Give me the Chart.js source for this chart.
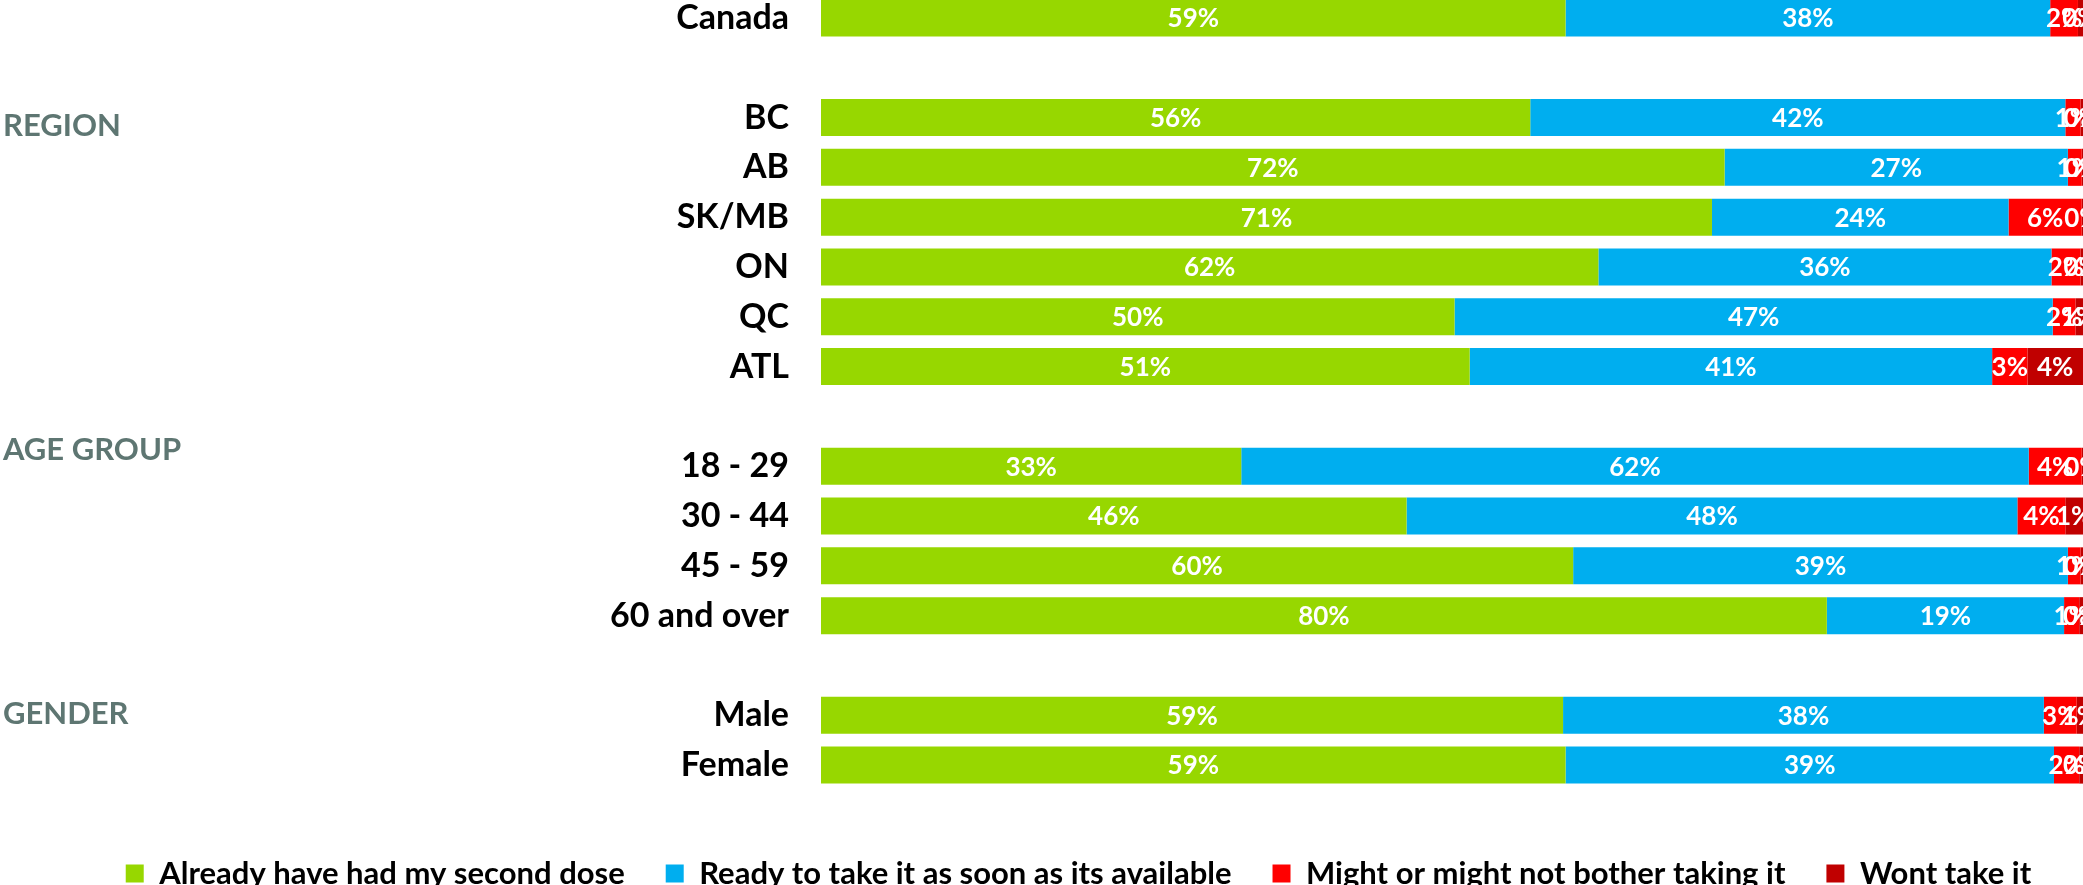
<!DOCTYPE html>
<html>
<head>
<meta charset="utf-8">
<script src="https://cdn.jsdelivr.net/npm/chart.js@4.4.0/dist/chart.umd.min.js"></script>
<style>
  html, body { margin: 0; padding: 0; background: #fff; overflow: hidden; }
  .chart-wrapper { position: absolute; left: 0; top: -7px; width: 2083px; height: 906px; }
</style>
</head>
<body>
<div class="chart-wrapper"><canvas id="vaccineChart"></canvas></div>
<script>
  // rows, blank strings are the gaps between the groups
  let rowLabels = ["Canada", "", "BC", "AB", "SK/MB", "ON", "QC", "ATL", "",
    "18 - 29", "30 - 44", "45 - 59", "60 and over", "", "Male", "Female"];

  let seriesNames = [
    "Already have had my second dose",
    "Ready to take it as soon as its available",
    "Might or might not bother taking it",
    "Wont take it",
  ];

  // shares in %
  let alreadyDosed = [59.0, null, 56.2, 71.6, 70.6, 61.6, 50.2, 51.4, null, 33.3, 46.4, 59.6, 79.7, null, 58.8, 59.0];
  let readyToTake  = [38.4, null, 42.4, 27.2, 23.5, 35.9, 47.4, 41.4, null, 62.4, 48.4, 39.2, 18.8, null, 38.1, 38.7];
  let mightNot     = [2.2, null, 1.2, 1.1, 5.8, 2.3, 1.8, 2.8, null, 4.2, 3.8, 1.0, 1.2, null, 2.6, 2.0];
  let wontTake     = [0.4, null, 0.2, 0.1, 0.1, 0.2, 0.6, 4.4, null, 0.1, 1.4, 0.2, 0.3, null, 0.5, 0.3];

  let groupHeadings = ["REGION", "AGE GROUP", "GENDER"];
  let headingRows = [2, 9, 14];

  // colors + fonts
  let seriesColors = ["#97D700", "#00AEEF", "#FF0000", "#C00000"];
  let headingColor = "#5E7672";
  let chartFont = "Lato";

  // baseline offsets of the group headings from their row centre
  let headingOffsets = [18.5, -6.5, 8.5];

  const barLabels = {
    id: "barLabels",
    afterDatasetsDraw(chart) {
      const ctx = chart.ctx;
      ctx.save();
      ctx.font = "bold 26px " + chartFont;
      ctx.fillStyle = "#fff";
      ctx.textAlign = "center";
      ctx.textBaseline = "middle";
      chart.data.datasets.forEach((ds, i) => {
        chart.getDatasetMeta(i).data.forEach((bar, j) => {
          const v = ds.data[j];
          if (v == null) return;
          ctx.fillText(Math.round(v) + "%", (bar.x + bar.base) / 2, bar.y + 1);
        });
      });
      ctx.restore();
    }
  };

  const groupTitles = {
    id: "groupTitles",
    afterDraw(chart) {
      const ctx = chart.ctx;
      const yScale = chart.scales.y;
      ctx.save();
      ctx.font = "bold 31px " + chartFont;
      ctx.fillStyle = headingColor;
      ctx.textAlign = "left";
      ctx.textBaseline = "alphabetic";
      groupHeadings.forEach((text, i) => {
        const y = yScale.getPixelForValue(headingRows[i]) + headingOffsets[i];
        ctx.fillText(text, 3, y);
      });
      ctx.restore();
    }
  };

  let seriesData = [alreadyDosed, readyToTake, mightNot, wontTake];

  let ctx = document.getElementById("vaccineChart").getContext("2d");
  new Chart(ctx, {
    type: "bar",
    data: {
      labels: rowLabels,
      datasets: seriesNames.map((name, i) => ({
        label: name,
        data: seriesData[i],
        backgroundColor: seriesColors[i],
        borderWidth: 0,
        categoryPercentage: 1,
        barPercentage: 0.743,
      })),
    },
    options: {
      indexAxis: "y",
      responsive: true,
      maintainAspectRatio: false,
      animation: false,
      layout: { padding: { left: 74, right: 0, top: 0, bottom: 0 } },
      scales: {
        x: {
          stacked: true,
          min: 0,
          max: 100,
          grid: { display: false },
          border: { display: false },
          ticks: { display: false },
          afterFit(scale) { scale.height = 27; },
        },
        y: {
          stacked: true,
          grid: { display: false, drawTicks: false },
          border: { display: false },
          ticks: {
            autoSkip: false,
            padding: 32,
            color: "#000",
            font: { family: chartFont, weight: "bold", size: 34 },
          },
          afterFit(scale) {
            scale.width = 747;
            scale.paddingTop = 0;
            scale.paddingBottom = 0;
          },
        },
      },
      plugins: {
        legend: {
          position: "bottom",
          labels: {
            boxWidth: 18,
            boxHeight: 18,
            padding: 41,
            color: "#000",
            font: { family: chartFont, weight: "bold", size: 31 },
          },
        },
        tooltip: { enabled: false },
      },
    },
    plugins: [barLabels, groupTitles],
  });
</script>
</body>
</html>
